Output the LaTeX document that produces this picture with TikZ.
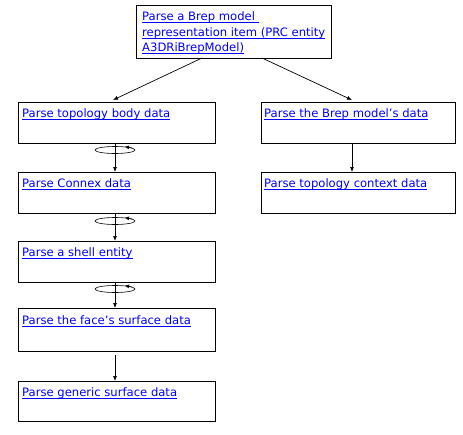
\documentclass[tikz,border=0pt]{standalone}
\usepackage{fontspec}
\setmainfont{DejaVu Sans}
\usetikzlibrary{arrows.meta}
\definecolor{linkblue}{RGB}{0,0,255}
\newcommand{\lnk}[1]{\setbox0\hbox{#1}\rlap{\vrule height -1.9pt depth 2.6pt width \wd0}\box0}
\begin{document}
\begin{tikzpicture}[x=1pt,y=-1pt,
  box/.style={draw,line width=0.9pt,minimum width=#1,minimum height=41pt,inner sep=0pt,anchor=north west},
  box/.default=197pt,
  lbl/.style={anchor=base west,inner sep=0pt,text=linkblue,font=\fontsize{11.6}{16}\selectfont},
  conn/.style={line width=0.7pt,-{Latex[length=5pt,width=4pt]}},
  loopy/.style={line width=0.6pt}]
\useasboundingbox (0,0) rectangle (463,434);
% boxes
\node[box=195pt,minimum height=53pt] (top) at (136,5) {};
\node[box] (b1) at (18,102) {};
\node[box] (b2) at (18,172) {};
\node[box] (b3) at (18,241) {};
\node[box,minimum height=43pt] (b4) at (18,308) {};
\node[box,minimum height=40pt] (b5) at (18,381) {};
\node[box=194pt] (r1) at (261,102) {};
\node[box=194pt] (r2) at (261,172) {};
% labels
\node[lbl] (t1) at (142,20.5) {\lnk{Parse a Brep model }};
\node[lbl] (t2) at (142,36) {\lnk{representation item (PRC entity}};
\node[lbl] (t3) at (142,51.5) {\lnk{A3DRiBrepModel)}};
\node[lbl] (l1) at (22,117) {\lnk{Parse topology body data}};
\node[lbl] (l2) at (22,187) {\lnk{Parse Connex data}};
\node[lbl] (l3) at (22,256) {\lnk{Parse a shell entity}};
\node[lbl] (l4) at (22,324) {\lnk{Parse the face's surface data}};
\node[lbl] (l5) at (22,396) {\lnk{Parse generic surface data}};
\node[lbl] (q1) at (264,117) {\lnk{Parse the Brep model's data}};
\node[lbl] (q2) at (264,187) {\lnk{Parse topology context data}};
% connectors
\coordinate (ts1) at (202,58);
\coordinate (ts2) at (262,58);
\coordinate (e1) at (113,100);
\coordinate (e2) at (352,100);
\draw[conn] (ts1) -- (e1);
\draw[conn] (ts2) -- (e2);
\draw[conn] (b1.south -| 115,0) -- (b2.north -| 115,0);
\draw[conn] (b2.south -| 115,0) -- (b3.north -| 115,0);
\draw[conn] (b3.south -| 115,0) -- (b4.north -| 115,0);
\draw[conn] (b4.south -| 115,0) ++(0,3) -- (b5.north -| 115,0);
\draw[conn] (r1.south -| 352,0) -- (r2.north -| 352,0);
% iteration loops
\foreach \yy in {150,221,289}{
  \draw[loopy] (115,\yy) ellipse [x radius=20pt,y radius=3.5pt];
  \draw[loopy,-{Latex[length=4pt,width=4pt]}] (132,\yy-2) -- (125,\yy-3.4);
}
\end{tikzpicture}
\end{document}
